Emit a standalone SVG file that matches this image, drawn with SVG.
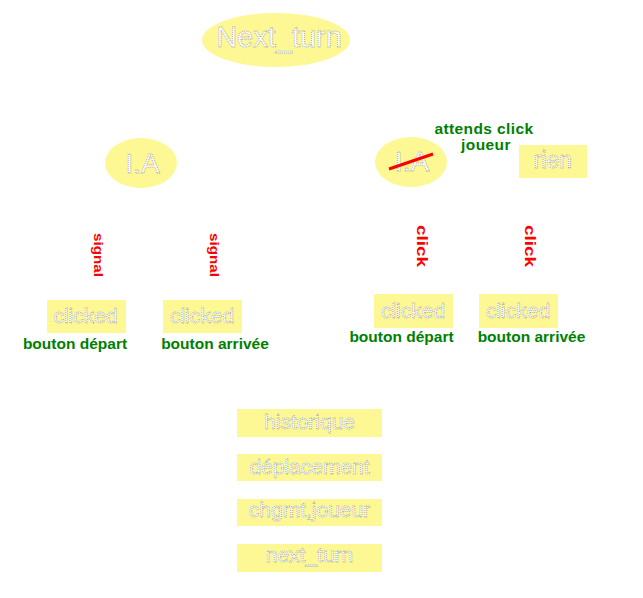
<svg xmlns="http://www.w3.org/2000/svg" width="643" height="598" viewBox="0 0 643 598">
<style>
.y{fill:#fdf894}
.w{fill:#ffffff;stroke:#9a9a9a;stroke-width:0.8;stroke-dasharray:1 1;font-family:"Liberation Sans",Arial,sans-serif;text-anchor:middle}
.g{fill:#008000;font-family:"Liberation Sans",Arial,sans-serif;font-weight:bold;font-size:15.5px;text-anchor:middle}
.r{fill:#ff0000;font-family:"Liberation Sans",Arial,sans-serif;text-anchor:middle;font-weight:bold}
</style>
<rect width="643" height="598" fill="#ffffff"/>
<g id="next_turn_root">
<ellipse class="y" cx="276" cy="40" rx="74" ry="27"/>
<text class="w" x="279" y="47" font-size="29">Next_turn</text>
</g>
<g id="ia_left">
<ellipse class="y" cx="141" cy="163" rx="36" ry="25"/>
<text class="w" x="142.5" y="173" font-size="28">I.A</text>
</g>
<g id="ia_right">
<ellipse class="y" cx="411" cy="162" rx="36" ry="25"/>
<text class="w" x="412" y="171" font-size="28">I.A</text>
<line x1="389" y1="169" x2="433" y2="154" stroke="#ff0000" stroke-width="3"/>
</g>
<g id="attends_label">
<text class="g" x="484" y="134" font-size="14.5" letter-spacing="0.4">attends click</text>
<text class="g" x="486" y="149.5" font-size="14.5" letter-spacing="0.4">joueur</text>
</g>
<g id="rien">
<rect class="y" x="519" y="145" width="68" height="33"/>
<text class="w" x="553" y="168" font-size="23">rien</text>
</g>
<g id="connectors">
<text class="r" transform="translate(94,255) rotate(90)" font-size="13.5" textLength="44" lengthAdjust="spacingAndGlyphs">signal</text>
<text class="r" transform="translate(210,255) rotate(90)" font-size="13.5" textLength="44" lengthAdjust="spacingAndGlyphs">signal</text>
<text class="r" transform="translate(417,246) rotate(90)" font-size="15" textLength="42" lengthAdjust="spacingAndGlyphs">click</text>
<text class="r" transform="translate(525,246) rotate(90)" font-size="15" textLength="42" lengthAdjust="spacingAndGlyphs">click</text>
</g>
<g id="clicked_1">
<rect class="y" x="47" y="300" width="79" height="33"/>
<text class="w" x="85.5" y="323" font-size="21">clicked</text>
<text class="g" x="75" y="349">bouton départ</text>
</g>
<g id="clicked_2">
<rect class="y" x="163" y="300" width="79" height="33"/>
<text class="w" x="202" y="323" font-size="21">clicked</text>
<text class="g" x="215" y="349">bouton arrivée</text>
</g>
<g id="clicked_3">
<rect class="y" x="374" y="294" width="79" height="34"/>
<text class="w" x="413" y="318" font-size="21">clicked</text>
<text class="g" x="401.5" y="342">bouton départ</text>
</g>
<g id="clicked_4">
<rect class="y" x="479" y="294" width="79" height="34"/>
<text class="w" x="518" y="318" font-size="21">clicked</text>
<text class="g" x="531.5" y="342">bouton arrivée</text>
</g>
<g id="historique">
<rect class="y" x="237" y="409" width="145" height="28"/>
<text class="w" x="309.5" y="429" font-size="21">historique</text>
</g>
<g id="deplacement">
<rect class="y" x="237" y="454" width="145" height="27"/>
<text class="w" x="309.5" y="474" font-size="21">déplacement</text>
</g>
<g id="chgmt_joueur">
<rect class="y" x="237" y="499" width="145" height="27"/>
<text class="w" x="309.5" y="517" font-size="21">chgmt,joueur</text>
</g>
<g id="next_turn_box">
<rect class="y" x="237" y="544" width="145" height="28"/>
<text class="w" x="309.5" y="562" font-size="21">next_turn</text>
</g>
</svg>
